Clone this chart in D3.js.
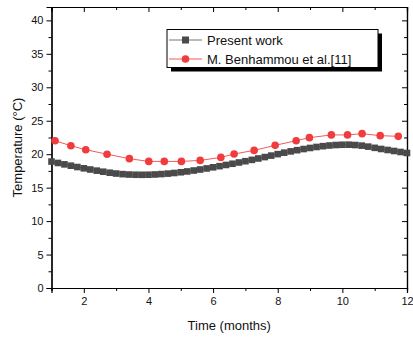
<!DOCTYPE html>
<html>
<head>
<meta charset="utf-8">
<script src="https://cdn.jsdelivr.net/npm/d3@7"></script>
<style>
  html, body { margin: 0; padding: 0; background: #fff; }
  svg { display: block; font-family: "Liberation Sans", Arial, sans-serif; }
</style>
</head>
<body>
<svg id="chart" width="413" height="337"></svg>
<script>
// Present work: simulated temperature, one value every 0.2 months
const presentMonths = [1.0,1.2,1.4,1.6,1.8,2.0,2.2,2.4,2.6,2.8,3.0,3.2,3.4,3.6,3.8,4.0,4.2,4.4,4.6,4.8,
  5.0,5.2,5.4,5.6,5.8,6.0,6.2,6.4,6.6,6.8,7.0,7.2,7.4,7.6,7.8,8.0,8.2,8.4,8.6,8.8,
  9.0,9.2,9.4,9.6,9.8,10.0,10.2,10.4,10.6,10.8,11.0,11.2,11.4,11.6,11.8,12.0];
const presentTemp = [18.90,18.69,18.48,18.28,18.08,17.89,17.71,17.54,17.38,17.23,17.11,17.02,16.96,16.93,16.92,16.93,16.97,17.03,17.10,17.19,
  17.30,17.42,17.56,17.71,17.87,18.04,18.21,18.39,18.57,18.76,18.95,19.15,19.36,19.57,19.79,20.01,20.23,20.42,20.60,20.77,
  20.93,21.08,21.20,21.30,21.37,21.41,21.42,21.37,21.28,21.13,20.95,20.78,20.63,20.48,20.33,20.18];

// M. Benhammou et al. [11]
const refMonths = [1.11,1.60,2.06,2.72,3.41,4.01,4.49,5.02,5.60,6.24,6.65,7.27,7.92,8.57,8.98,9.66,10.16,10.61,11.17,11.73];
const refTemp = [22.0,21.27,20.67,20.0,19.33,18.92,18.92,18.92,19.07,19.52,20.03,20.57,21.32,22.02,22.47,22.88,22.88,23.07,22.77,22.67];

const xTicks = [2, 4, 6, 8, 10, 12];
const yTicks = [0, 5, 10, 15, 20, 25, 30, 35, 40];
const legendLabels = ["Present work", "M. Benhammou et al.[11]"];

const svg = d3.select("#chart");
const plotLeft = 51.5, plotRight = 407, plotTop = 7, plotBottom = 288;

const x = d3.scaleLinear().domain([1, 12]).range([plotLeft, plotRight]);
const y = d3.scaleLinear().domain([0, 42]).range([plotBottom, plotTop]);

const minorX = d3.range(1, 13, 1).filter(v => !xTicks.includes(v));
const minorY = d3.range(2.5, 42, 5);

// bottom axis: outward major ticks with labels, short minor ticks
svg.append("g").attr("transform", `translate(0,${plotBottom})`)
  .call(d3.axisBottom(x).tickValues(xTicks).tickSize(5).tickPadding(4).tickFormat(d3.format("d")));
svg.append("g").attr("transform", `translate(0,${plotBottom})`)
  .call(d3.axisBottom(x).tickValues(minorX).tickSize(3).tickFormat(""));

svg.append("g").attr("transform", `translate(${plotLeft},0)`)
  .call(d3.axisLeft(y).tickValues(yTicks).tickSize(5).tickPadding(3).tickFormat(d3.format("d")));
svg.append("g").attr("transform", `translate(${plotLeft},0)`)
  .call(d3.axisLeft(y).tickValues(minorY).tickSize(3).tickFormat(""));

// mirrored axes: top and right, ticks pointing inward
svg.append("g").attr("transform", `translate(0,${plotTop})`)
  .call(d3.axisTop(x).tickValues(xTicks).tickSize(-5).tickFormat(""));
svg.append("g").attr("transform", `translate(0,${plotTop})`)
  .call(d3.axisTop(x).tickValues(minorX).tickSize(-3).tickFormat(""));
svg.append("g").attr("transform", `translate(${plotRight},0)`)
  .call(d3.axisRight(y).tickValues(yTicks).tickSize(-5).tickFormat(""));
svg.append("g").attr("transform", `translate(${plotRight},0)`)
  .call(d3.axisRight(y).tickValues(minorY).tickSize(-3).tickFormat(""));

svg.selectAll(".domain").attr("stroke", "#000").attr("stroke-width", 1.2);
svg.selectAll(".tick line").attr("stroke", "#000").attr("stroke-width", 1);
svg.selectAll(".tick text").attr("font-size", 11).attr("fill", "#111")
  .attr("font-family", "Liberation Sans, Arial, sans-serif");

// axis titles
svg.append("text").attr("x", (plotLeft + plotRight) / 2).attr("y", 330)
  .attr("text-anchor", "middle").attr("font-size", 13).attr("fill", "#111")
  .text("Time (months)");
svg.append("text")
  .attr("transform", `translate(22,${(plotTop + plotBottom) / 2}) rotate(-90)`)
  .attr("text-anchor", "middle").attr("font-size", 13).attr("fill", "#111")
  .text("Temperature (°C)");

const plot = svg.append("g");
const grey = "#4a4a4a", red = "#f03c3c";

// reference series: thin line with round markers
const refData = refMonths.map((m, i) => ({ m, t: refTemp[i] }));
plot.append("path").datum(refData)
  .attr("fill", "none").attr("stroke", "#f25a5a").attr("stroke-width", 1)
  .attr("d", d3.line().x(d => x(d.m)).y(d => y(d.t)));
plot.selectAll("circle.ref").data(refData).join("circle")
  .attr("class", "ref")
  .attr("cx", d => x(d.m)).attr("cy", d => y(d.t)).attr("r", 3.8)
  .attr("fill", red);

// present work: dense square markers
const presData = presentMonths.map((m, i) => ({ m, t: presentTemp[i] }));
plot.append("path").datum(presData)
  .attr("fill", "none").attr("stroke", grey).attr("stroke-width", 1)
  .attr("d", d3.line().x(d => x(d.m)).y(d => y(d.t)));
const sq = 6.6;
plot.selectAll("rect.pres").data(presData).join("rect")
  .attr("class", "pres")
  .attr("x", d => x(d.m) - sq / 2).attr("y", d => y(d.t) - sq / 2)
  .attr("width", sq).attr("height", sq)
  .attr("fill", grey);

// legend box with drop shadow
const lx = 167, ly = 29.5, lw = 211, lh = 38;
const legend = svg.append("g");
legend.append("rect").attr("x", lx + 4).attr("y", ly + 4).attr("width", lw).attr("height", lh).attr("fill", "#000");
legend.append("rect").attr("x", lx).attr("y", ly).attr("width", lw).attr("height", lh)
  .attr("fill", "#fff").attr("stroke", "#000").attr("stroke-width", 1);

const rows = [
  { label: legendLabels[0], color: grey, lineColor: "#777", shape: "square" },
  { label: legendLabels[1], color: red, lineColor: "#f25a5a", shape: "circle" }
];
rows.forEach((r, i) => {
  const cy = 40 + i * 19;
  legend.append("line").attr("x1", 169).attr("x2", 202).attr("y1", cy).attr("y2", cy)
    .attr("stroke", r.lineColor).attr("stroke-width", 1);
  if (r.shape === "square") {
    legend.append("rect").attr("x", 185.5 - 3.5).attr("y", cy - 3.5).attr("width", 7).attr("height", 7).attr("fill", r.color);
  } else {
    legend.append("circle").attr("cx", 185.5).attr("cy", cy).attr("r", 3.8).attr("fill", r.color);
  }
  legend.append("text").attr("x", 207).attr("y", cy + 4.6)
    .attr("font-size", 13).attr("fill", "#111").text(r.label);
});
</script>
</body>
</html>
